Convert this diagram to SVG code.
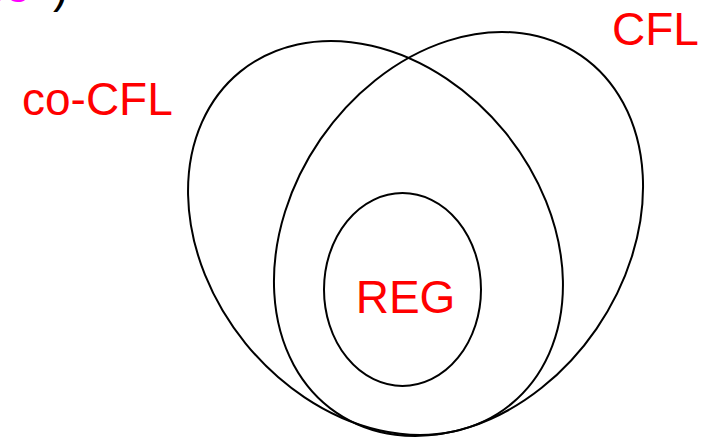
<svg xmlns="http://www.w3.org/2000/svg" width="708" height="438" viewBox="0 0 708 438">
<style>
.set{fill:none;stroke:#000;stroke-width:2}
.lbl{font-family:"Liberation Sans",Arial,sans-serif;font-size:46px;fill:#ff0000}
</style>
<rect width="708" height="438" fill="#fff"/>
<g id="title-fragment" font-family="Liberation Sans, Arial, sans-serif" font-size="46">
<text x="-18" y="2" fill="#ff00ff">ce</text><text x="53" y="2" fill="#000">)</text>
</g>
<g id="co-CFL">
<ellipse class="set" cx="375.5" cy="238" rx="214.4" ry="167.3" transform="rotate(50.9 375.5 238)"/>
<text class="lbl" x="22" y="115">co-CFL</text>
</g>
<g id="CFL">
<ellipse class="set" cx="458.5" cy="234" rx="216.4" ry="167.4" transform="rotate(-55.5 458.5 234)"/>
<text class="lbl" x="612" y="45">CFL</text>
</g>
<g id="REG">
<ellipse class="set" cx="402.5" cy="289.5" rx="78.5" ry="96.5"/>
<text class="lbl" x="405.5" y="313" text-anchor="middle">REG</text>
</g>
<g id="connectors"/>
</svg>
